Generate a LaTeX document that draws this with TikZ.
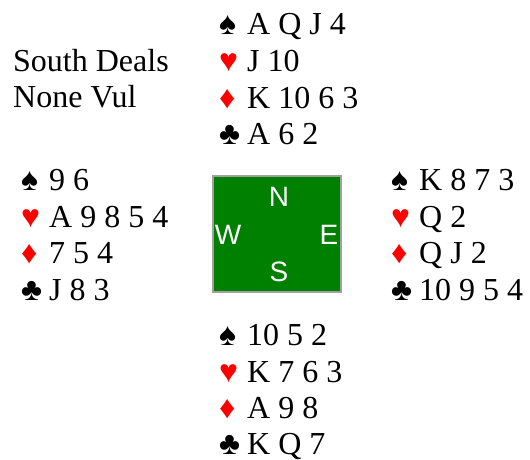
\documentclass[tikz,border=0pt]{standalone}
\usepackage{fontspec}
\setmainfont{Liberation Serif}
\newfontfamily\compfont{Liberation Sans}
\definecolor{suitred}{RGB}{255,0,0}
\definecolor{feltgreen}{RGB}{0,128,0}
\definecolor{boxgray}{RGB}{160,160,160}
\begin{document}
\begin{tikzpicture}[x=1pt,y=-1pt,
  txt/.style={anchor=base west,inner sep=0pt,font=\fontsize{32}{36}\selectfont},
  sym/.style={anchor=base west,inner sep=0pt,font=\fontsize{32}{36}\selectfont},
  redsym/.style={sym,text=suitred},
  cmp/.style={inner sep=0pt,text=white,font=\compfont\fontsize{28}{30}\selectfont}]
\useasboundingbox (0,0) rectangle (530,460);
% deal info
\node[txt] (deal) at (13,71) {South Deals};
\node[txt] (vul) at (13,107) {None Vul};
% North
\node[sym] (ns) at (219,35) {♠};
\node[txt] (nst) at (247,35) {A Q J 4};
\node[redsym] (nh) at (219,72) {♥};
\node[txt] (nht) at (247,72) {J 10};
\node[redsym] (nd) at (219,108) {♦};
\node[txt] (ndt) at (247,108) {K 10 6 3};
\node[sym] (nc) at (219,144) {♣};
\node[txt] (nct) at (247,144) {A 6 2};
% West
\node[sym] (ws) at (21,190) {♠};
\node[txt] (wst) at (49,190) {9 6};
\node[redsym] (wh) at (21,227) {♥};
\node[txt] (wht) at (49,227) {A 9 8 5 4};
\node[redsym] (wd) at (21,263) {♦};
\node[txt] (wdt) at (49,263) {7 5 4};
\node[sym] (wc) at (21,300) {♣};
\node[txt] (wct) at (49,300) {J 8 3};
% East
\node[sym] (es) at (391,190) {♠};
\node[txt] (est) at (419,190) {K 8 7 3};
\node[redsym] (eh) at (391,227) {♥};
\node[txt] (eht) at (419,227) {Q 2};
\node[redsym] (ed) at (391,263) {♦};
\node[txt] (edt) at (419,263) {Q J 2};
\node[sym] (ec) at (391,300) {♣};
\node[txt] (ect) at (419,300) {10 9 5 4};
% South
\node[sym] (ss) at (219,345) {♠};
\node[txt] (sst) at (247,345) {10 5 2};
\node[redsym] (sh) at (219,382) {♥};
\node[txt] (sht) at (247,382) {K 7 6 3};
\node[redsym] (sd) at (219,418) {♦};
\node[txt] (sdt) at (247,418) {A 9 8};
\node[sym] (sc) at (219,454) {♣};
\node[txt] (sct) at (247,454) {K Q 7};
% compass
\draw[draw=boxgray,line width=2pt,fill=feltgreen] (213,176) rectangle (341,292);
\node[cmp] (cn) at (279,197) {N};
\node[cmp] (cw) at (228,235) {W};
\node[cmp] (ce) at (329,235) {E};
\node[cmp] (cs) at (279,272) {S};
\end{tikzpicture}
\end{document}
